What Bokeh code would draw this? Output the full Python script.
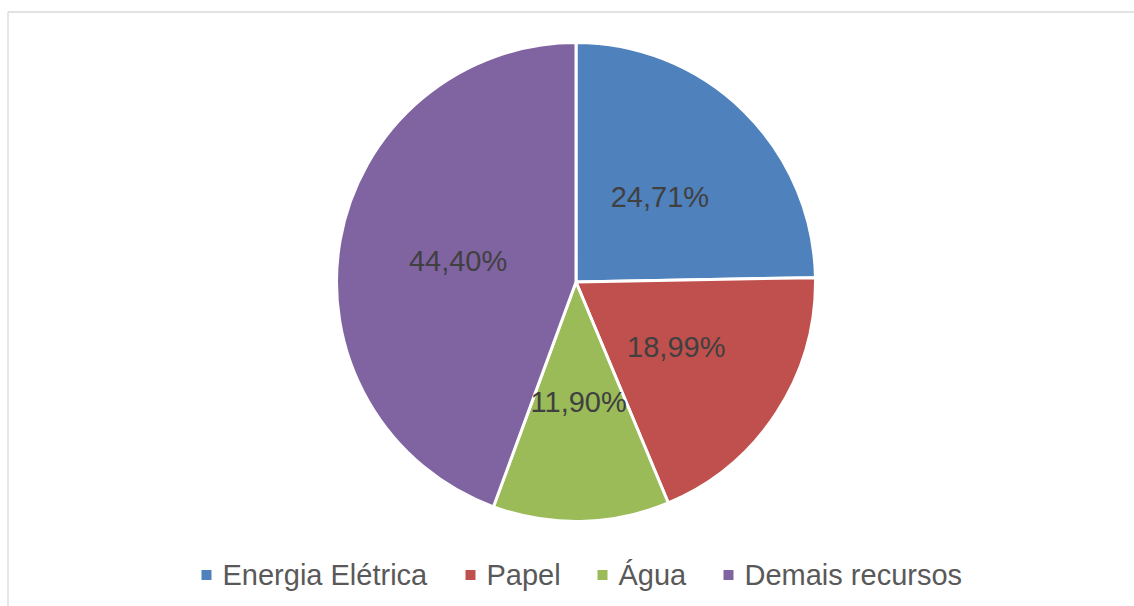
import numpy as np
from bokeh.plotting import figure
from bokeh.models import Range1d, ColumnDataSource
from bokeh.embed import file_html
from bokeh.resources import INLINE
from bokeh.core.properties import value

# ---- data ----
categories = ["Energia Elétrica", "Papel", "Água", "Demais recursos"]
shares = [24.71, 18.99, 11.90, 44.40]
pct_labels = ["24,71%", "18,99%", "11,90%", "44,40%"]
colors = ["#4F81BD", "#C0504D", "#9BBB59", "#8064A2"]

# ---- layout (pixels) ----
W, H = 1134, 606
cx, cy, R = 575.5, H - 281.5, 239.5
legend_sq_x = [206, 470, 602, 728]
legend_y = H - 574.5
FONT = value("Liberation Sans")

frac = np.array(shares) / sum(shares)
cum = np.cumsum(frac)
start = np.pi / 2 - 2 * np.pi * (cum - frac)
end = np.pi / 2 - 2 * np.pi * cum
mid = (start + end) / 2

src = ColumnDataSource(dict(
    cat=categories, color=colors, start=start, end=end,
    lx=cx + 0.5 * R * np.cos(mid), ly=cy + 0.5 * R * np.sin(mid),
    lab=pct_labels,
))

p = figure(width=W, height=H, x_range=Range1d(0, W), y_range=Range1d(0, H),
           output_backend="svg", toolbar_location=None, min_border=0,
           x_axis_type=None, y_axis_type=None)
p.outline_line_color = None
p.background_fill_color = "white"
p.border_fill_color = "white"

# chart area border
p.quad(left=[7.5], right=[W + 20], bottom=[-20], top=[H - 11.5],
       fill_alpha=0, line_color="#D9D9D9", line_width=1.3)

p.wedge(x=cx, y=cy, radius=R, start_angle="start", end_angle="end",
        direction="clock", fill_color="color", line_color="white",
        line_width=3, source=src)

p.text(x="lx", y="ly", text="lab", source=src, text_font=FONT,
       text_font_size="29px", text_color="#404040",
       text_align="center", text_baseline="middle")

# legend
lsrc = ColumnDataSource(dict(
    x=legend_sq_x, tx=[v + 16 for v in legend_sq_x], y=[legend_y] * 4,
    color=colors, cat=categories,
))
p.rect(x="x", y="y", width=10, height=10, fill_color="color",
       line_color=None, source=lsrc)
p.text(x="tx", y="y", text="cat", source=lsrc, text_font=FONT,
       text_font_size="29px", text_color="#595959",
       text_align="left", text_baseline="middle")

open("out.html", "w").write(file_html(p, INLINE))
